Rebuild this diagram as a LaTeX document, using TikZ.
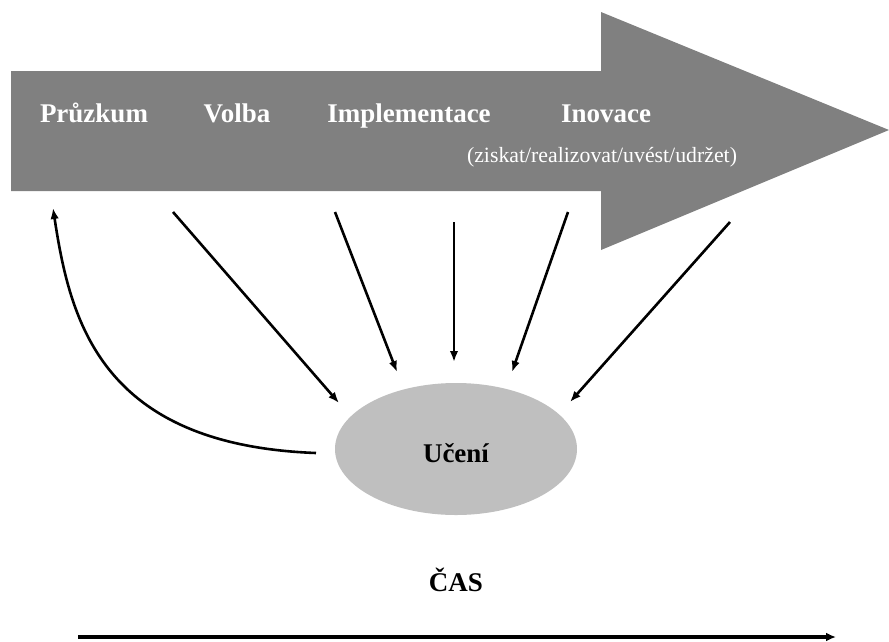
\documentclass[tikz,border=0pt]{standalone}
\usepackage{fontspec}
\setmainfont{Liberation Serif}
\usetikzlibrary{shapes.geometric,arrows.meta}

\definecolor{bandgrey}{HTML}{808080}
\definecolor{blobgrey}{HTML}{BFBFBF}

\tikzset{
  stage/.style={text=white, anchor=base, inner sep=0pt,
    font=\fontsize{27}{30}\selectfont\bfseries},
  substage/.style={text=white, anchor=base, inner sep=0pt,
    font=\fontsize{21.8}{24}\selectfont},
  flow/.style={line width=2.6pt, -{Latex[length=11pt,width=8.5pt]}},
  timeline/.style={line width=3.6pt, -{Latex[length=10pt,width=9pt]}},
  blob/.style={ellipse, fill=blobgrey, draw=none, inner sep=0pt,
    minimum width=242pt, minimum height=132pt},
  label/.style={anchor=base, inner sep=0pt,
    font=\fontsize{27}{30}\selectfont\bfseries}
}

\begin{document}
\begin{tikzpicture}[x=1pt,y=-1pt]
\useasboundingbox (0,0) rectangle (889,641);

% broad process arrow
\fill[bandgrey] (11,71) -- (601,71) -- (601,12) -- (889,130)
  -- (601,250) -- (601,191) -- (11,191) -- cycle;

% stage names
\node[stage] (pruzkum) at (94,122) {Průzkum};
\node[stage] (volba) at (237,122) {Volba};
\node[stage] (impl) at (409,122) {Implementace};
\node[stage] (inov) at (606,122) {Inovace};
\node[substage] (inovsub) at (602,162) {(ziskat/realizovat/uvést/udržet)};

% learning hub
\node[blob] (learn) at (456,449) {};
\node[label] (learntxt) at (456,462) {Učení};

% arrow ends
\coordinate (s1) at (173,212);
\coordinate (e1) at (339,403);
\coordinate (s2) at (335,212);
\coordinate (e2) at (397,372);
\coordinate (s3) at (454,222);
\coordinate (e3) at (454,362);
\coordinate (s4) at (568,212);
\coordinate (e4) at (512,372);
\coordinate (s5) at (730,222);
\coordinate (e5) at (570,402);
\coordinate (fbstart) at (316,453);
\coordinate (fbend) at (53,208);

\draw[flow] (s1) -- (e1);
\draw[flow] (s2) -- (e2);
\draw[flow] (s3) -- (e3);
\draw[flow] (s4) -- (e4);
\draw[flow] (s5) -- (e5);
\draw[flow] (fbstart) .. controls (100,445) and (70,320) .. (fbend);

% time axis
\node[label] (cas) at (456,591) {ČAS};
\coordinate (t0) at (78,637);
\coordinate (t1) at (836,637);
\draw[timeline] (t0) -- (t1);
\end{tikzpicture}
\end{document}
